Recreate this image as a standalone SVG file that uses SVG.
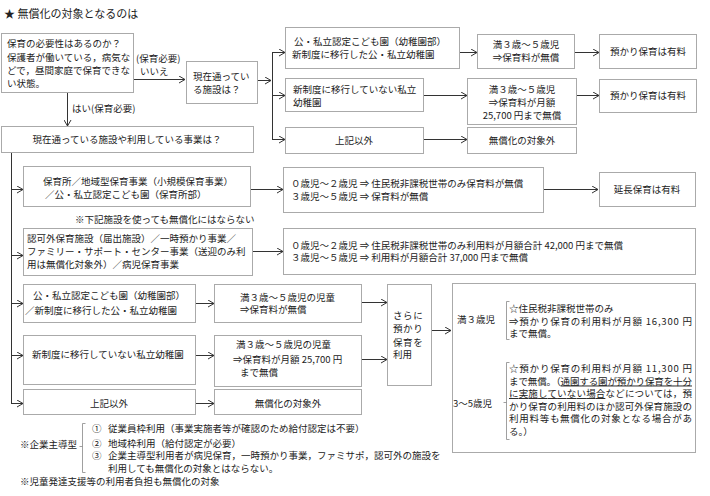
<svg xmlns="http://www.w3.org/2000/svg" width="710" height="496" viewBox="0 0 710 496">
<style>
text{font-family:"Noto Sans CJK JP","Noto Sans CJK SC",sans-serif;font-size:9.5px;fill:#222}
.c{text-anchor:middle}
.b{fill:#fff;stroke:#aaa;stroke-width:1}
.k{fill:none;stroke:#333;stroke-width:1}
.a{fill:none;stroke:#333;stroke-width:1;marker-end:url(#ah)}
.br{fill:none;stroke:#888;stroke-width:0.8}
.u{text-decoration:underline}
</style>
<defs>
<marker id="ah" markerUnits="userSpaceOnUse" viewBox="0 0 7 8" refX="6.5" refY="4" markerWidth="7" markerHeight="8" orient="auto">
<path d="M0.5,0.5 L6.5,4 L0.5,7.5" fill="none" stroke="#333" stroke-width="1"/>
</marker>
</defs>
<rect width="710" height="496" fill="#fff"/>
<text x="4" y="18" style="font-size:11px">★ 無償化の対象となるのは</text>

<g id="connectors">
<path class="a" d="M133,79.5 H185"/>
<path class="a" d="M257,80.5 H271"/>
<path class="k" d="M272.5,52 V139"/>
<path class="a" d="M272,52.5 H285"/>
<path class="a" d="M272,95.5 H285"/>
<path class="a" d="M272,139.5 H285"/>
<path class="a" d="M459,52.5 H477"/>
<path class="a" d="M574,52.5 H599"/>
<path class="a" d="M423,95.5 H467"/>
<path class="a" d="M576,95.5 H599"/>
<path class="a" d="M423,139.5 H467"/>
<path class="a" d="M67.5,92 V126"/>
<path class="k" d="M11.5,152 V403.5"/>
<path class="a" d="M11,189.5 H23"/>
<path class="a" d="M11,255.5 H23"/>
<path class="a" d="M11,303.5 H23"/>
<path class="a" d="M11,355.5 H23"/>
<path class="a" d="M11,403.5 H23"/>
<path class="a" d="M250,189.5 H283"/>
<path class="a" d="M543,189.5 H598"/>
<path class="a" d="M252,251.5 H283"/>
<path class="a" d="M195,303.5 H214"/>
<path class="a" d="M195,355.5 H214"/>
<path class="a" d="M195,403.5 H214"/>
<path class="a" d="M361,302.5 H387"/>
<path class="a" d="M361,359.5 H387"/>
<path class="a" d="M431,330.5 H451"/>
</g>

<g id="lbl-no">
<text x="136" y="61.5">(保育必要)</text>
<text x="140" y="74.5">いいえ</text>
</g>
<g id="lbl-yes">
<text x="72" y="111.5">はい(保育必要)</text>
</g>

<g id="nA">
<rect class="b" x="1.5" y="33.5" width="132" height="59"/>
<text x="7" y="47">保育の必要性はあるのか？</text>
<text x="7" y="61">保護者が働いている，病気な</text>
<text x="7" y="74">どで，昼間家庭で保育できな</text>
<text x="7" y="87">い状態。</text>
</g>
<g id="nB">
<rect class="b" x="186.5" y="61.5" width="71" height="42"/>
<text x="193" y="79.5">現在通ってい</text>
<text x="193" y="92.5">る施設は？</text>
</g>
<g id="nC1">
<rect class="b" x="285.5" y="27.5" width="174" height="41"/>
<text x="294" y="45">公・私立認定こども園（幼稚園部）</text>
<text x="292" y="58">新制度に移行した公・私立幼稚園</text>
</g>
<g id="nD1">
<rect class="b" x="477.5" y="34.5" width="97" height="34"/>
<text class="c" x="526" y="47.5">満３歳～５歳児</text>
<text class="c" x="526" y="60.5">⇒保育料が無償</text>
</g>
<g id="nE1">
<rect class="b" x="599.5" y="34.5" width="97" height="34"/>
<text class="c" x="648" y="55">預かり保育は有料</text>
</g>
<g id="nC2">
<rect class="b" x="285.5" y="78.5" width="138" height="33"/>
<text x="293" y="92.5">新制度に移行していない私立</text>
<text x="293" y="105.5">幼稚園</text>
</g>
<g id="nD2">
<rect class="b" x="467.5" y="78.5" width="109" height="46"/>
<text class="c" x="522" y="92.5">満３歳～５歳児</text>
<text class="c" x="522" y="105.5">⇒保育料が月額</text>
<text class="c" x="522" y="118.5">25,700 円まで無償</text>
</g>
<g id="nE2">
<rect class="b" x="599.5" y="79.5" width="97" height="33"/>
<text class="c" x="648" y="99">預かり保育は有料</text>
</g>
<g id="nC3">
<rect class="b" x="285.5" y="127.5" width="138" height="26"/>
<text class="c" x="354" y="144">上記以外</text>
</g>
<g id="nD3">
<rect class="b" x="467.5" y="127.5" width="109" height="26"/>
<text class="c" x="522" y="144">無償化の対象外</text>
</g>
<g id="nF">
<rect class="b" x="1.5" y="126.5" width="252" height="26"/>
<text class="c" x="127" y="143">現在通っている施設や利用している事業は？</text>
</g>

<g id="nG1">
<rect class="b" x="23.5" y="166.5" width="227" height="40"/>
<text x="43" y="184.5">保育所／地域型保育事業（小規模保育事業）</text>
<text x="45" y="197.5">／公・私立認定こども園（保育所部）</text>
</g>
<g id="note1">
<text x="75" y="222.5">※下記施設を使っても無償化にはならない</text>
</g>
<g id="nG2">
<rect class="b" x="23.5" y="228.5" width="229" height="47"/>
<text x="27" y="241.5">認可外保育施設（届出施設）／一時預かり事業／</text>
<text x="27" y="255">ファミリー・サポート・センター事業（送迎のみ利</text>
<text x="27" y="268">用は無償化対象外）／病児保育事業</text>
</g>
<g id="nH1">
<rect class="b" x="283.5" y="167.5" width="260" height="45"/>
<text x="291" y="186.5">０歳児～２歳児 ⇒ 住民税非課税世帯のみ保育料が無償</text>
<text x="291" y="199.5">３歳児～５歳児 ⇒ 保育料が無償</text>
</g>
<g id="nI">
<rect class="b" x="599.5" y="172.5" width="96" height="34"/>
<text class="c" x="647" y="193">延長保育は有料</text>
</g>
<g id="nH2">
<rect class="b" x="283.5" y="228.5" width="412" height="46"/>
<text x="291" y="248.5">０歳児～２歳児 ⇒ 住民税非課税世帯のみ利用料が月額合計 42,000 円まで無償</text>
<text x="291" y="261">３歳児～５歳児 ⇒ 利用料が月額合計 37,000 円まで無償</text>
</g>

<g id="nJ1">
<rect class="b" x="23.5" y="284.5" width="172" height="38"/>
<text x="33" y="298.5">公・私立認定こども園（幼稚園部）</text>
<text x="25" y="313.5">／新制度に移行した公・私立幼稚園</text>
</g>
<g id="nJ2">
<rect class="b" x="23.5" y="335.5" width="172" height="49"/>
<text x="32" y="358">新制度に移行していない私立幼稚園</text>
</g>
<g id="nJ3">
<rect class="b" x="23.5" y="389.5" width="172" height="25"/>
<text class="c" x="109" y="406.5">上記以外</text>
</g>
<g id="nK1">
<rect class="b" x="214.5" y="284.5" width="147" height="38"/>
<text x="240" y="300.5">満３歳～５歳児の児童</text>
<text x="240" y="313">⇒保育料が無償</text>
</g>
<g id="nK2">
<rect class="b" x="214.5" y="335.5" width="147" height="51"/>
<text x="236" y="348">満３歳～５歳児の児童</text>
<text x="233" y="362.5">⇒保育料が月額 25,700 円</text>
<text x="240" y="376">まで無償</text>
</g>
<g id="nK3">
<rect class="b" x="214.5" y="389.5" width="147" height="25"/>
<text class="c" x="288" y="406.5">無償化の対象外</text>
</g>
<g id="nL">
<rect class="b" x="387.5" y="284.5" width="44" height="101"/>
<text x="393" y="318.5" style="letter-spacing:0.6px">さらに</text>
<text x="393" y="332" style="letter-spacing:0.6px">預かり</text>
<text x="393" y="345.5" style="letter-spacing:0.6px">保育を</text>
<text x="393" y="358">利用</text>
</g>
<g id="nM">
<rect class="b" x="452.5" y="283.5" width="243" height="169"/>
<text x="457" y="323">満３歳児</text>
<path class="br" d="M509.5,301.5 H506.5 V339.5 H509.5"/>
<text x="509" y="311.5">☆住民税非課税世帯のみ</text>
<text x="509" y="324.5" textLength="183" lengthAdjust="spacing">⇒預かり保育の利用料が月額 16,300 円</text>
<text x="509" y="337">まで無償。</text>
<text x="453" y="406.5">3～5歳児</text>
<path class="br" d="M509.5,362.5 H506.5 V439.5 H509.5 M506.5,402.5 H503.5"/>
<text x="509" y="372" textLength="183" lengthAdjust="spacing">☆預かり保育の利用料が月額 11,300 円</text>
<text x="509" y="384.5" textLength="183" lengthAdjust="spacing">まで無償。（<tspan class="u">通園する園が預かり保育を十分</tspan></text>
<text x="509" y="397" textLength="183" lengthAdjust="spacing"><tspan class="u">に実施していない場合</tspan>などについては，預</text>
<text x="509" y="409.5" textLength="183" lengthAdjust="spacing">かり保育の利用料のほか認可外保育施設の</text>
<text x="509" y="422" textLength="183" lengthAdjust="spacing">利用料等も無償化の対象となる場合があ</text>
<text x="509" y="434.5">る。）</text>
</g>

<g id="notes">
<text x="20" y="447.5">※企業主導型</text>
<path class="br" d="M85.5,423.5 H82.5 V472.5 H85.5 M82.5,446.5 H79.5"/>
<text x="92" y="431.5">①</text>
<text x="108" y="431.5">従業員枠利用（事業実施者等が確認のため給付認定は不要）</text>
<text x="92" y="446.5">②</text>
<text x="108" y="446.5">地域枠利用（給付認定が必要）</text>
<text x="92" y="459">③</text>
<text x="108" y="459">企業主導型利用者が病児保育，一時預かり事業，ファミサポ，認可外の施設を</text>
<text x="108" y="472">利用しても無償化の対象とはならない。</text>
<text x="20" y="484.5">※児童発達支援等の利用者負担も無償化の対象</text>
</g>
</svg>
